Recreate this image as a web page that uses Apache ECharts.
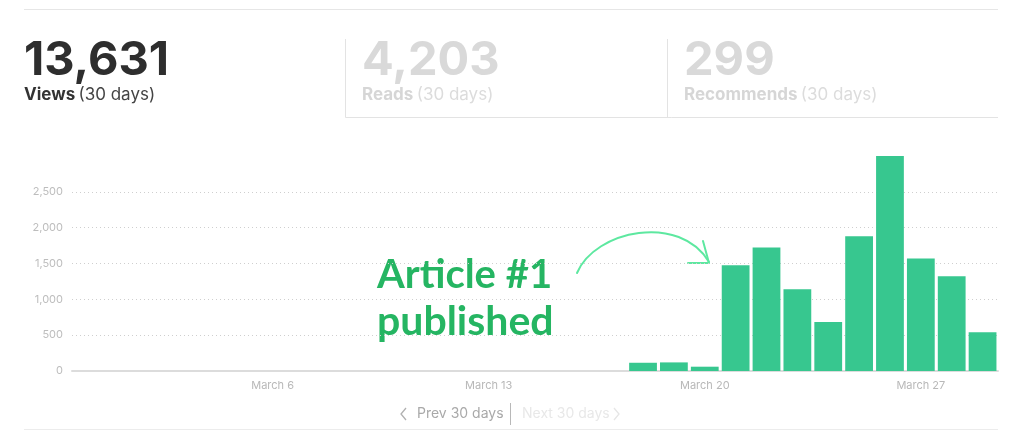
<!DOCTYPE html>
<html>
<head>
<meta charset="utf-8">
<script src="https://cdn.jsdelivr.net/npm/echarts@6/dist/echarts.min.js"></script>
<style>
html,body{margin:0;padding:0;background:#fff;}
#c{width:1024px;height:432px;}
</style>
</head>
<body>
<div id="c"></div>
<script>
// ---- data ----
const categories = ["Feb 28","March 1","March 2","March 3","March 4","March 5","March 6","March 7","March 8","March 9","March 10","March 11","March 12","March 13","March 14","March 15","March 16","March 17","March 18","March 19","March 20","March 21","March 22","March 23","March 24","March 25","March 26","March 27","March 28","March 29"];
const views = [0,0,0,0,0,0,0,0,0,0,0,0,0,0,0,0,0,0,115,120,60,1475,1725,1141,684,1880,3000,1569,1322,540];
const yTicks = [0,500,1000,1500,2000,2500,3000];
const statValues = ["13,631","4,203","299"];
const statLabels = ["Views","Reads","Recommends"];
const statPeriod = "(30 days)";
const annotation = ["Article #1","published"];
const navLabels = ["Prev 30 days","Next 30 days"];

const chart = echarts.init(document.getElementById('c'), null, {renderer:'canvas'});
const FONT = 'Inter, "Liberation Sans", sans-serif';
const AFONT = 'Lato, "Open Sans", sans-serif';
const fmt = v => v.toLocaleString('en-US');

const statX = [24, 362, 684];
const numColors = ['#2e2e2e','#d9d9d9','#d9d9d9'];
const labColors = ['#333333','#d6d6d6','#d6d6d6'];
const perColors = ['#444444','#dcdcdc','#dcdcdc'];
const graphics = [];
// top line
graphics.push({type:'line', shape:{x1:24,y1:9.5,x2:998,y2:9.5}, style:{stroke:'#e6e6e6',lineWidth:1}});
// panel borders
graphics.push({type:'polyline', shape:{points:[[345.5,39],[345.5,117.5],[998,117.5]]}, style:{stroke:'#e3e3e3',lineWidth:1,fill:null}});
graphics.push({type:'line', shape:{x1:667.5,y1:39,x2:667.5,y2:117.5}, style:{stroke:'#e3e3e3',lineWidth:1}});
for (let i=0;i<3;i++){
  graphics.push({type:'text', x:statX[i], y:61, style:{text:statValues[i], font:'bold 47px '+FONT, fill:numColors[i], verticalAlign:'middle', align:'left'}});
  graphics.push({type:'text', x:statX[i], y:95, style:{
    text:'{b|'+statLabels[i]+'} {r|'+statPeriod+'}',
    verticalAlign:'middle',
    rich:{
      b:{font:'bold 17px '+FONT, fill:labColors[i]},
      r:{font:'17px '+FONT, fill:perColors[i]}
    }
  }});
}
// annotation text
graphics.push({type:'text', x:377, y:275, style:{text:annotation[0], font:'bold 40px '+AFONT, fill:'#25b562', verticalAlign:'middle'}});
graphics.push({type:'text', x:377, y:322, style:{text:annotation[1], font:'bold 41px '+AFONT, fill:'#25b562', verticalAlign:'middle'}});
// arrow
graphics.push({type:'bezierCurve', shape:{x1:577,y1:273,cpx1:595,cpy1:230,cpx2:680,cpy2:213,x2:709,y2:262}, style:{stroke:'#5de8a0',lineWidth:2,fill:null,lineCap:'round'}});
graphics.push({type:'polyline', shape:{points:[[703,241],[709,263],[688,263]]}, style:{stroke:'#5de8a0',lineWidth:2,fill:null,lineCap:'round',lineJoin:'round'}});
// nav
graphics.push({type:'polyline', shape:{points:[[406,408],[401,414],[406,420]]}, style:{stroke:'#b0b0b0',lineWidth:1.3,fill:null}});
graphics.push({type:'text', x:417, y:414, style:{text:navLabels[0], font:'14px '+FONT, fill:'#a9a9a9', verticalAlign:'middle'}});
graphics.push({type:'line', shape:{x1:510.5,y1:403,x2:510.5,y2:425}, style:{stroke:'#b8b8b8',lineWidth:1}});
graphics.push({type:'text', x:522, y:414, style:{text:navLabels[1], font:'14px '+FONT, fill:'#e8e8e8', verticalAlign:'middle'}});
graphics.push({type:'polyline', shape:{points:[[614,408],[619,414],[614,420]]}, style:{stroke:'#e6e6e6',lineWidth:1.3,fill:null}});
graphics.push({type:'line', shape:{x1:24,y1:429.5,x2:998,y2:429.5}, style:{stroke:'#ececec',lineWidth:1}});

chart.setOption({
  animation:false,
  backgroundColor:'#fff',
  grid:{left:72,right:26,top:156,bottom:61,containLabel:false},
  xAxis:{
    type:'category', data:categories,
    axisLine:{show:true,lineStyle:{color:'#dcdcdc',width:2}},
    axisTick:{show:false},
    axisLabel:{interval:(idx)=> idx%7===6, color:'#b8b8b8', fontSize:11, fontFamily:FONT, margin:9},
    splitLine:{show:false}
  },
  yAxis:{
    type:'value', min:yTicks[0], max:yTicks[yTicks.length-1], interval:yTicks[1]-yTicks[0],
    axisLine:{show:false}, axisTick:{show:false},
    axisLabel:{showMaxLabel:false, formatter:v=>fmt(v), color:'#bdbdbd', fontSize:11, fontFamily:FONT, margin:9},
    splitLine:{show:true, showMinLine:false, showMaxLine:false, lineStyle:{color:'#cfcfcf', type:[1,3], width:1}}
  },
  series:[{
    type:'bar', data:views, barCategoryGap:'10%',
    itemStyle:{color:'#37c78f'},
    z:3
  }],
  graphic:graphics
});
</script>
</body>
</html>
